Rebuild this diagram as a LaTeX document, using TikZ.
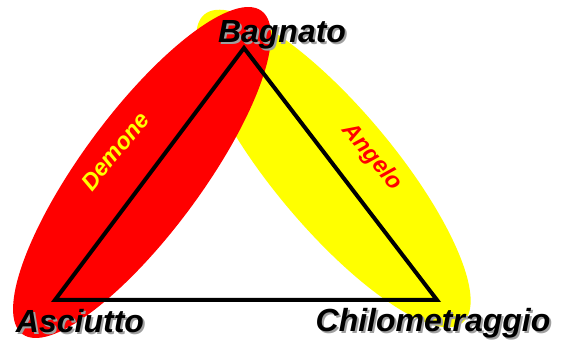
\documentclass[tikz,border=0pt]{standalone}
\usepackage{fontspec}
\setmainfont{Liberation Sans}
\usepackage{tikz}
\usetikzlibrary{positioning,shapes.geometric}
\definecolor{demonered}{RGB}{255,0,0}
\definecolor{angeloyellow}{RGB}{255,255,0}
\definecolor{shadowgray}{RGB}{160,160,160}
\newcommand{\shadowed}[1]{\makebox[0pt][l]{\hspace{2pt}\raisebox{-2pt}{\color{shadowgray}#1}}#1}
\tikzset{
  zone/.style={ellipse, draw=none, minimum width=402pt, minimum height=120pt,
               inner sep=0pt},
  corner/.style={font=\bfseries\itshape\fontsize{32}{36}\selectfont,
                 inner sep=0pt, text=black},
  spirit/.style={font=\bfseries\itshape\fontsize{23.5}{26}\selectfont,
                 inner sep=0pt},
  edge/.style={line width=4pt, miter limit=10},
}
\begin{document}
\begin{tikzpicture}[x=1pt, y=1pt]
  \useasboundingbox (0,0) rectangle (563,343);
  % ---- zones ----
  \node[zone, fill=angeloyellow, rotate=-50] (angelozone) at (333.5,174.5) {};
  \node[zone, fill=demonered, rotate=53.5] (demonezone) at (142,170.5) {};

  % ---- triangle ----
  \coordinate (top) at (244,295);
  \coordinate (left) at (55,43);
  \coordinate (right) at (437,43);
  \draw[edge] (top) -- (left) -- (right) -- cycle;

  % ---- labels ----
  \node[corner] (bagnato) at (282,307) {\shadowed{Bagnato}};
  \node[corner] (asciutto) at (80,21) {\shadowed{Asciutto}};
  \node[corner] (chilo) at (433,19) {\shadowed{Chilometraggio}};
  \node[spirit, text=angeloyellow, rotate=51] (demone) at (115,192) {Demone};
  \node[spirit, text=demonered, rotate=-50] (angelo) at (372,186) {Angelo};
\end{tikzpicture}
\end{document}
